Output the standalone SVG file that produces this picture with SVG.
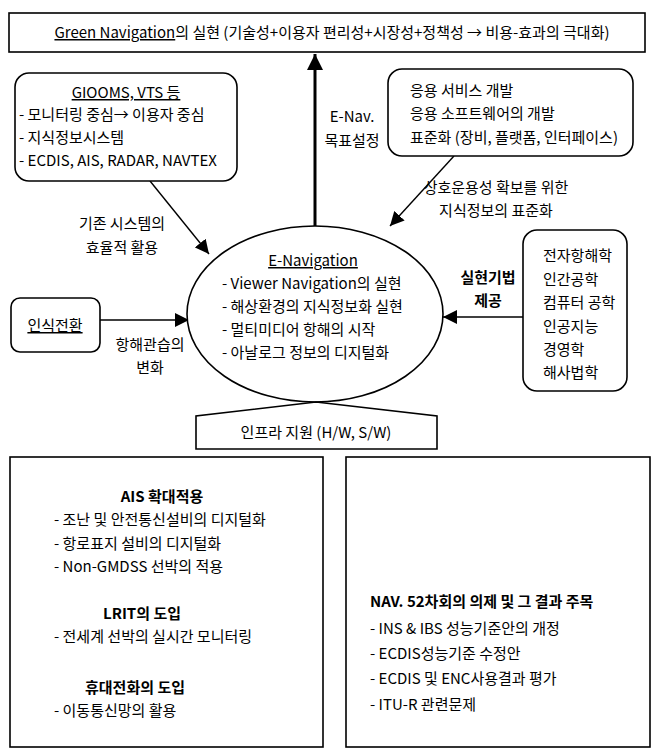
<svg xmlns="http://www.w3.org/2000/svg" width="656" height="754" viewBox="0 0 656 754">
<defs>
<style>
text{font-family:"Noto Sans CJK KR","Noto Sans",sans-serif;font-size:15px;fill:#000}
.c{text-anchor:middle}
.b{font-weight:bold}
.u{text-decoration:underline}
.box{fill:#fff;stroke:#000;stroke-width:1.6}
.ln{fill:none;stroke:#000;stroke-width:1.4}
.thick{fill:none;stroke:#000;stroke-width:3}
</style>
<marker id="ah" viewBox="0 0 10 10" refX="10" refY="5" markerWidth="10" markerHeight="10" markerUnits="userSpaceOnUse" orient="auto"><path d="M0,0 L10,5 L0,10 Z" fill="#000"/></marker>
<marker id="ahb" viewBox="0 0 10 10" refX="10" refY="5" markerWidth="16" markerHeight="16" markerUnits="userSpaceOnUse" orient="auto"><path d="M0,0 L10,5 L0,10 Z" fill="#000"/></marker>
<marker id="ahm" viewBox="0 0 10 10" refX="10" refY="5" markerWidth="14" markerHeight="14" markerUnits="userSpaceOnUse" orient="auto"><path d="M0,0 L10,5 L0,10 Z" fill="#000"/></marker>
</defs>
<rect width="656" height="754" fill="#fff"/>

<g id="connectors">
<line class="thick" x1="315" y1="226" x2="315" y2="54" marker-end="url(#ahb)"/>
<line class="ln" x1="150" y1="181" x2="209" y2="254" marker-end="url(#ahm)"/>
<line class="ln" x1="454" y1="156" x2="390" y2="226" marker-end="url(#ahm)"/>
<line class="ln" x1="100" y1="320" x2="189" y2="320" marker-end="url(#ahm)"/>
<line class="ln" x1="523" y1="317" x2="443" y2="317" marker-end="url(#ahm)"/>
<text class="c" x="352" y="122">E-Nav.</text>
<text class="c" x="352" y="146">목표설정</text>
<text class="c" x="122" y="229">기존 시스템의</text>
<text class="c" x="122" y="253">효율적 활용</text>
<text class="c" x="496" y="193">상호운용성 확보를 위한</text>
<text class="c" x="496" y="216">지식정보의 표준화</text>
<text class="c" x="150" y="350">항해관습의</text>
<text class="c" x="150" y="373">변화</text>
<text class="c b" x="488" y="283">실현기법</text>
<text class="c b" x="488" y="306">제공</text>
</g>

<g id="goal">
<rect class="box" x="9" y="13" width="636" height="39"/>
<text class="c" x="332" y="38"><tspan class="u">Green Navigation</tspan>의 실현 (기술성+이용자 편리성+시장성+정책성 → 비용-효과의 극대화)</text>
</g>

<g id="existing">
<rect class="box" x="15" y="73" width="222" height="108" rx="14"/>
<text class="c u" x="126" y="98">GIOOMS, VTS 등</text>
<text x="19" y="120">- 모니터링 중심→ 이용자 중심</text>
<text x="19" y="143">- 지식정보시스템</text>
<text x="19" y="166">- ECDIS, AIS, RADAR, NAVTEX</text>
</g>

<g id="services">
<rect class="box" x="388" y="69" width="245" height="87" rx="14"/>
<text x="410" y="96">응용 서비스 개발</text>
<text x="410" y="119">응용 소프트웨어의 개발</text>
<text x="410" y="143">표준화 (장비, 플랫폼, 인터페이스)</text>
</g>

<g id="enav">
<ellipse class="box" cx="315" cy="314" rx="128" ry="88"/>
<text class="c u" x="313" y="266">E-Navigation</text>
<text x="222" y="289">- Viewer Navigation의 실현</text>
<text x="222" y="312">- 해상환경의 지식정보화 실현</text>
<text x="222" y="335">- 멀티미디어 항해의 시작</text>
<text x="222" y="358">- 아날로그 정보의 디지털화</text>
</g>

<g id="mindset">
<rect class="box" x="11" y="298" width="89" height="54" rx="9"/>
<text class="c u" x="55" y="331">인식전환</text>
</g>

<g id="disciplines">
<rect class="box" x="523" y="230" width="104" height="161" rx="14"/>
<text x="543" y="261">전자항해학</text>
<text x="543" y="285">인간공학</text>
<text x="543" y="308">컴퓨터 공학</text>
<text x="543" y="332">인공지능</text>
<text x="543" y="355">경영학</text>
<text x="543" y="378">해사법학</text>
</g>

<g id="infra">
<path class="box" d="M316,402 L196,416 L196,449 L437,449 L437,416 Z"/>
<text class="c" x="316" y="438">인프라 지원 (H/W, S/W)</text>
</g>

<g id="ais">
<rect class="box" x="10" y="457" width="313" height="290"/>
<text class="c b" x="162" y="502">AIS 확대적용</text>
<text x="54" y="525">- 조난 및 안전통신설비의 디지털화</text>
<text x="54" y="549">- 항로표지 설비의 디지털화</text>
<text x="54" y="572">- Non-GMDSS 선박의 적용</text>
<text class="c b" x="142" y="619">LRIT의 도입</text>
<text x="54" y="642">- 전세계 선박의 실시간 모니터링</text>
<text class="c b" x="135" y="693">휴대전화의 도입</text>
<text x="54" y="716">- 이동통신망의 활용</text>
</g>

<g id="nav52">
<rect class="box" x="346" y="457" width="304" height="290"/>
<text class="b" x="370" y="607">NAV. 52차회의 의제 및 그 결과 주목</text>
<text x="370" y="634">- INS &amp; IBS 성능기준안의 개정</text>
<text x="370" y="659">- ECDIS성능기준 수정안</text>
<text x="370" y="684">- ECDIS 및 ENC사용결과 평가</text>
<text x="370" y="710">- ITU-R 관련문제</text>
</g>
</svg>
